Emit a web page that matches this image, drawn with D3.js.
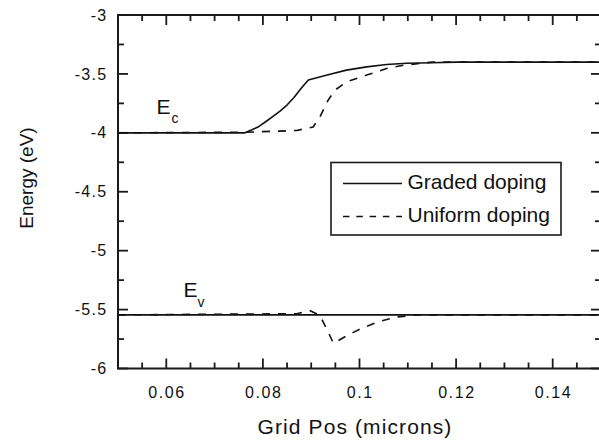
<!DOCTYPE html>
<html>
<head>
<meta charset="utf-8">
<script src="https://cdn.jsdelivr.net/npm/d3@7"></script>
<style>
  html, body { margin: 0; padding: 0; background: #fff; }
  svg { display: block; }
  text { font-family: "Liberation Sans", Arial, Helvetica, sans-serif; fill: #111; }
</style>
</head>
<body>
<svg id="chart" width="599" height="448"></svg>
<script>
// Band-edge energies across the grid (position in microns, energy in eV)
const gradedEcX = [0.05, 0.0763, 0.07774, 0.07919, 0.08064, 0.08209, 0.08354, 0.08499, 0.08644, 0.08789, 0.0894, 0.0933, 0.0973, 0.1015, 0.1056, 0.1098, 0.115, 0.12, 0.15];
const gradedEcY = [-4.0, -4.0, -3.974, -3.946, -3.904, -3.861, -3.815, -3.764, -3.700, -3.624, -3.552, -3.51, -3.468, -3.44, -3.42, -3.41, -3.405, -3.40, -3.40];

const uniformEcX = [0.05, 0.0763, 0.0870, 0.0904, 0.0918, 0.0935, 0.0949, 0.0973, 0.1015, 0.1056, 0.1091, 0.115, 0.15];
const uniformEcY = [-4.0, -3.995, -3.98, -3.95, -3.866, -3.723, -3.638, -3.568, -3.51, -3.454, -3.426, -3.40, -3.40];

const gradedEvX = [0.05, 0.15];
const gradedEvY = [-5.545, -5.545];

const uniformEvX = [0.05, 0.087, 0.0898, 0.0918, 0.0934, 0.0946, 0.0973, 0.1001, 0.1038, 0.1076, 0.1121, 0.15];
const uniformEvY = [-5.545, -5.535, -5.51, -5.55, -5.68, -5.786, -5.724, -5.665, -5.605, -5.563, -5.545, -5.545];

// Axis ticks and labels
const xMajorTicks = [0.06, 0.08, 0.1, 0.12, 0.14];
const xTickLabels = ["0.06", "0.08", "0.1", "0.12", "0.14"];
const yMajorTicks = [-3, -3.5, -4, -4.5, -5, -5.5, -6];
const yTickLabels = ["-3", "-3.5", "-4", "-4.5", "-5", "-5.5", "-6"];

const legendLabels = ["Graded doping", "Uniform doping"];

const svg = d3.select("#chart");
const plotLeft = 118, plotRight = 601, plotTop = 15, plotBottom = 368.5;

const x = d3.scaleLinear().domain([0.05, 0.15]).range([plotLeft, plotRight]);
const y = d3.scaleLinear().domain([-3, -6]).range([plotTop, plotBottom]);

const xMinor = [];
for (let i = 0; i <= 20; i++) {
  const v = 0.05 + i * 0.005;
  if (!xMajorTicks.some(m => Math.abs(m - v) < 1e-9)) xMinor.push(v);
}
const yMinor = [];
for (let i = 0; i <= 12; i++) {
  const v = -3 - i * 0.25;
  if (!yMajorTicks.some(m => Math.abs(m - v) < 1e-9)) yMinor.push(v);
}

const axisColor = "#1a1a1a";
const MAJOR = 10, MINOR = 6;

// Plot frame
svg.append("path")
  .attr("d", `M${plotLeft},${plotTop}H${plotRight}V${plotBottom}H${plotLeft}Z`)
  .attr("fill", "none").attr("stroke", axisColor).attr("stroke-width", 2);

// Inward tick marks on all four sides
const tickSegs = [];
xMajorTicks.forEach(v => tickSegs.push([x(v), plotBottom, x(v), plotBottom - MAJOR], [x(v), plotTop, x(v), plotTop + MAJOR]));
xMinor.forEach(v => tickSegs.push([x(v), plotBottom, x(v), plotBottom - MINOR], [x(v), plotTop, x(v), plotTop + MINOR]));
yMajorTicks.forEach(v => tickSegs.push([plotLeft, y(v), plotLeft + MAJOR, y(v)], [plotRight, y(v), plotRight - MAJOR, y(v)]));
yMinor.forEach(v => tickSegs.push([plotLeft, y(v), plotLeft + MINOR, y(v)], [plotRight, y(v), plotRight - MINOR, y(v)]));

const tickG = svg.append("g");
tickSegs.forEach(s => {
  tickG.append("line")
    .attr("x1", s[0]).attr("y1", s[1]).attr("x2", s[2]).attr("y2", s[3])
    .attr("stroke", axisColor)
    .attr("stroke-width", 1.8);
});

// Tick labels
svg.append("g").selectAll("text").data(xMajorTicks).join("text")
  .attr("x", d => x(d) + 0.8)
  .attr("y", plotBottom + 29.8)
  .attr("text-anchor", "middle")
  .attr("font-size", 16)
  .attr("letter-spacing", "1.6px")
  .text((d, i) => xTickLabels[i]);

svg.append("g").selectAll("text").data(yMajorTicks).join("text")
  .attr("x", plotLeft - 10.5)
  .attr("y", d => y(d))
  .attr("dy", "0.35em")
  .attr("text-anchor", "end")
  .attr("font-size", 16)
  .attr("letter-spacing", "1.3px")
  .text((d, i) => yTickLabels[i]);

// Curves
const line = d3.line().x(d => x(d[0])).y(d => y(d[1])).curve(d3.curveLinear);
const zip = (xs, ys) => xs.map((v, i) => [v, ys[i]]);

const series = [
  { pts: zip(gradedEcX, gradedEcY), dash: null },
  { pts: zip(gradedEvX, gradedEvY), dash: null },
  { pts: zip(uniformEcX, uniformEcY), dash: "8,8" },
  { pts: zip(uniformEvX, uniformEvY), dash: "8,8" }
];

svg.append("g").selectAll("path").data(series).join("path")
  .attr("d", d => line(d.pts))
  .attr("fill", "none")
  .attr("stroke", "#111")
  .attr("stroke-width", 1.6)
  .attr("stroke-linejoin", "round")
  .attr("stroke-dasharray", d => d.dash);

// Band labels
const ec = svg.append("text").attr("x", 156.5).attr("y", 113.5).attr("font-size", 21);
ec.append("tspan").text("E");
ec.append("tspan").attr("font-size", 14).attr("dx", 1).attr("dy", 9.5).text("c");

const ev = svg.append("text").attr("x", 183.5).attr("y", 297).attr("font-size", 21);
ev.append("tspan").text("E");
ev.append("tspan").attr("font-size", 14).attr("dx", 0).attr("dy", 10).text("v");

// Legend
const legend = svg.append("g");
legend.append("rect")
  .attr("x", 331).attr("y", 162.5).attr("width", 230).attr("height", 72.5)
  .attr("fill", "#fff").attr("stroke", axisColor).attr("stroke-width", 1.6);

const legendRows = [
  { label: legendLabels[0], dash: null, ly: 183.5 },
  { label: legendLabels[1], dash: "6.5,6.8", ly: 216.5 }
];
legendRows.forEach(r => {
  legend.append("line")
    .attr("x1", 343).attr("x2", 402).attr("y1", r.ly).attr("y2", r.ly)
    .attr("stroke", "#111").attr("stroke-width", 1.4)
    .attr("stroke-dasharray", r.dash);
  legend.append("text")
    .attr("x", 407.5).attr("y", r.ly + 5.5)
    .attr("font-size", 21)
    .text(r.label);
});

// Axis titles
svg.append("text")
  .attr("x", 355).attr("y", 434)
  .attr("text-anchor", "middle")
  .attr("font-size", 21)
  .attr("letter-spacing", "1.1px")
  .text("Grid Pos (microns)");

svg.append("text")
  .attr("transform", "translate(33,178) rotate(-90)")
  .attr("text-anchor", "middle")
  .attr("font-size", 19)
  .text("Energy (eV)");
</script>
</body>
</html>
